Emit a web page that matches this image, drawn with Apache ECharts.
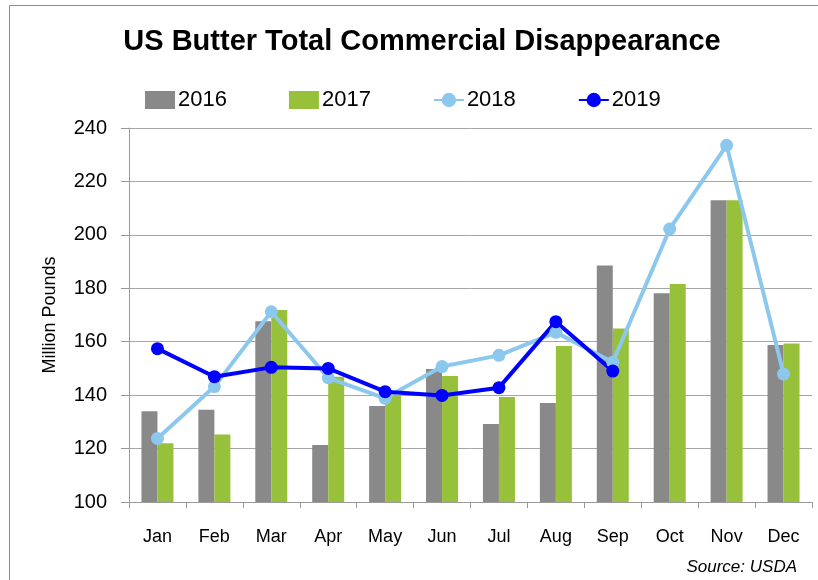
<!DOCTYPE html>
<html><head><meta charset="utf-8">
<script src="https://cdn.jsdelivr.net/npm/echarts@6/dist/echarts.min.js"></script>
<style>html,body{margin:0;padding:0;background:#fff}#c{width:818px;height:580px}</style>
</head><body><div id="c"></div>
<script>
const months = ['Jan','Feb','Mar','Apr','May','Jun','Jul','Aug','Sep','Oct','Nov','Dec'];
const s2016 = [134, 134.5, 167.7, 121.3, 135.9, 149.8, 129.2, 137.1, 188.5, 178.1, 213, 158.8];
const s2017 = [122, 125.3, 171.9, 146.9, 140.1, 147.2, 139.3, 158.4, 164.9, 181.6, 213, 159.3];
const s2018 = [123.8, 143.2, 171.2, 146.5, 138.8, 150.7, 154.9, 163.5, 152.3, 202.2, 233.5, 147.9];
const s2019 = [157.4, 146.9, 150.4, 150, 141.3, 139.9, 142.8, 167.5, 149, null, null, null];
const yTicks = {min: 100, max: 240, interval: 20};

const chart = echarts.init(document.getElementById('c'));
const font = 'Liberation Sans';
chart.setOption({
  animation: false,
  title: {
    text: 'US Butter Total Commercial Disappearance',
    left: 417, top: 22, textAlign: 'center',
    textStyle: {fontFamily: font, fontWeight: 'bold', fontSize: 29, color: '#000'}
  },
  legend: {
    top: 84, left: 140, itemGap: 62,
    itemWidth: 30, itemHeight: 18,
    textStyle: {fontFamily: font, fontSize: 22, color: '#000', padding: [0,0,0,-2]},
    data: [
      {name: '2016', icon: 'rect'},
      {name: '2017', icon: 'rect'},
      {name: '2018'},
      {name: '2019'}
    ]
  },
  grid: {left: 129, right: 6, top: 128, bottom: 78},
  xAxis: {
    type: 'category', data: months, boundaryGap: true,
    axisLine: {lineStyle: {color: '#9a9a9a', width: 1}},
    axisTick: {show: true, length: 6, lineStyle: {color: '#9a9a9a'}},
    axisLabel: {fontFamily: font, fontSize: 18, color: '#000', margin: 26}
  },
  yAxis: {
    type: 'value', min: yTicks.min, max: yTicks.max, interval: yTicks.interval,
    name: 'Million Pounds', nameLocation: 'middle', nameGap: 70, nameRotate: 90,
    nameTextStyle: {fontFamily: font, fontSize: 18, color: '#000'},
    axisLine: {show: true, lineStyle: {color: '#9a9a9a'}},
    axisTick: {show: true, length: 8, lineStyle: {color: '#9a9a9a'}},
    axisLabel: {fontFamily: font, fontSize: 20, color: '#000', margin: 22},
    splitLine: {lineStyle: {color: '#a6a6a6', width: 1}}
  },
  graphic: [
    {type: 'rect', shape: {x: 9.5, y: 5.5, width: 820, height: 590}, style: {fill: 'none', stroke: '#8c8c8c', lineWidth: 1}, silent: true},
    {type: 'text', right: 21, bottom: 4, style: {text: 'Source: USDA', font: 'italic 17px Liberation Sans', fill: '#000'}}
  ],
  series: [
    {name: '2016', type: 'bar', data: s2016, barWidth: 16, barGap: '0%', itemStyle: {color: '#898989'}},
    {name: '2017', type: 'bar', data: s2017, barWidth: 16, barGap: '0%', itemStyle: {color: '#97C13A'}},
    {name: '2018', type: 'line', data: s2018, symbol: 'circle', symbolSize: 13,
      lineStyle: {color: '#8CC8EE', width: 4}, itemStyle: {color: '#8CC8EE'}},
    {name: '2019', type: 'line', data: s2019, symbol: 'circle', symbolSize: 13,
      lineStyle: {color: '#0000FF', width: 4}, itemStyle: {color: '#0000FF'}}
  ]
});
</script></body></html>
